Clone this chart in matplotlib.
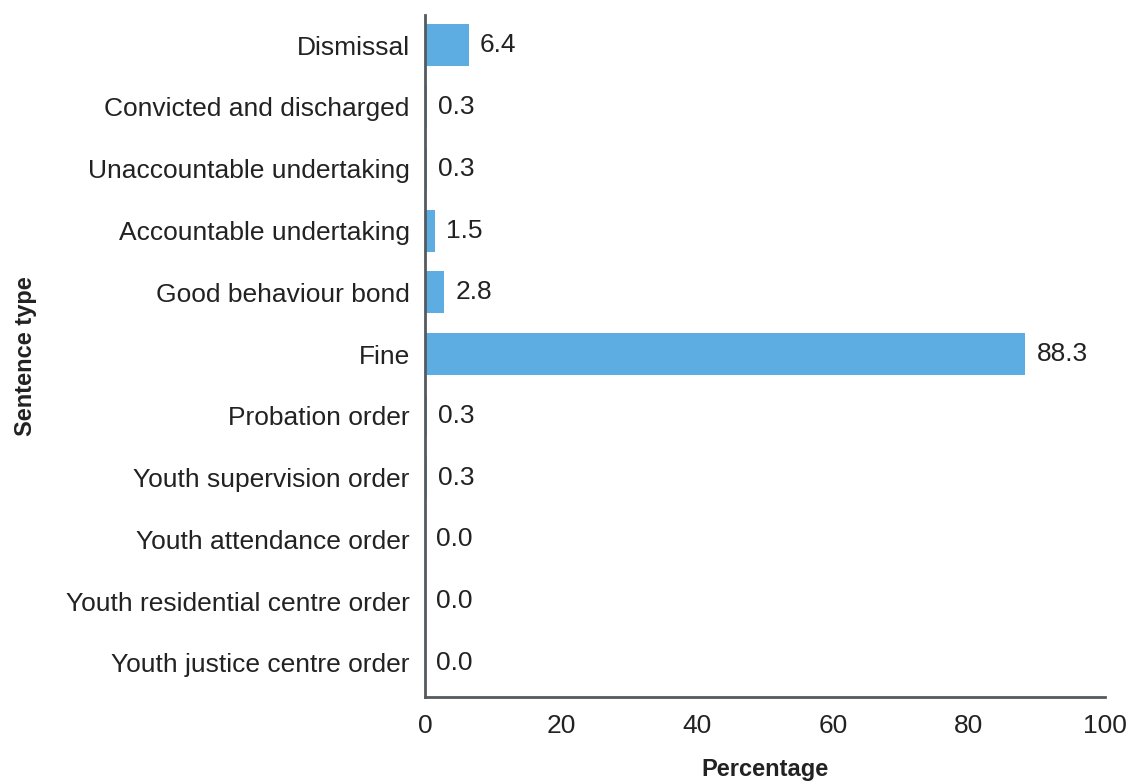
import matplotlib
matplotlib.use("Agg")
import matplotlib.pyplot as plt

categories = [
    "Dismissal",
    "Convicted and discharged",
    "Unaccountable undertaking",
    "Accountable undertaking",
    "Good behaviour bond",
    "Fine",
    "Probation order",
    "Youth supervision order",
    "Youth attendance order",
    "Youth residential centre order",
    "Youth justice centre order",
]
percentages = [6.4, 0.3, 0.3, 1.5, 2.8, 88.3, 0.3, 0.3, 0.0, 0.0, 0.0]
x_ticks = [0, 20, 40, 60, 80, 100]

plt.rcParams["font.family"] = ["Liberation Sans", "DejaVu Sans"]
text_color = "#222222"
spine_color = "#555a5e"

fig = plt.figure(figsize=(11.31, 7.84), dpi=100)
ax = fig.add_axes([0.3758, 0.111, 0.977 - 0.3758, 0.981 - 0.111])

y = list(range(len(categories)))
ax.barh(y, percentages, height=0.68, color="#5dade2")

for pos, val in zip(y, percentages):
    ax.annotate(f"{val:.1f}", xy=(val, pos), xytext=(8, 0),
                textcoords="offset points", va="center", ha="left",
                fontsize=19, color=text_color)

ax.set_yticks(y)
ax.set_yticklabels(categories, fontsize=19, color=text_color)
ax.set_ylim(len(categories) - 1 + 0.55, -0.49)

ax.set_xlim(0, 100)
ax.set_xticks(x_ticks)
ax.set_xticklabels([str(t) for t in x_ticks], fontsize=19, color=text_color)
ax.tick_params(axis="both", length=0)
ax.tick_params(axis="x", pad=12)
ax.tick_params(axis="y", pad=11)

for side in ["top", "right"]:
    ax.spines[side].set_visible(False)
for side in ["left", "bottom"]:
    ax.spines[side].set_color(spine_color)
    ax.spines[side].set_linewidth(2)

ax.set_xlabel("Percentage", fontsize=17, fontweight="bold", color=text_color)
ax.xaxis.set_label_coords(0.5, -0.107)
ax.xaxis.label.set_va("center")
ax.set_ylabel("Sentence type", fontsize=17, fontweight="bold", color=text_color)
ax.yaxis.set_label_coords(-0.588, 0.5)
ax.yaxis.label.set_va("center")

fig.savefig("out.png", dpi=100)
